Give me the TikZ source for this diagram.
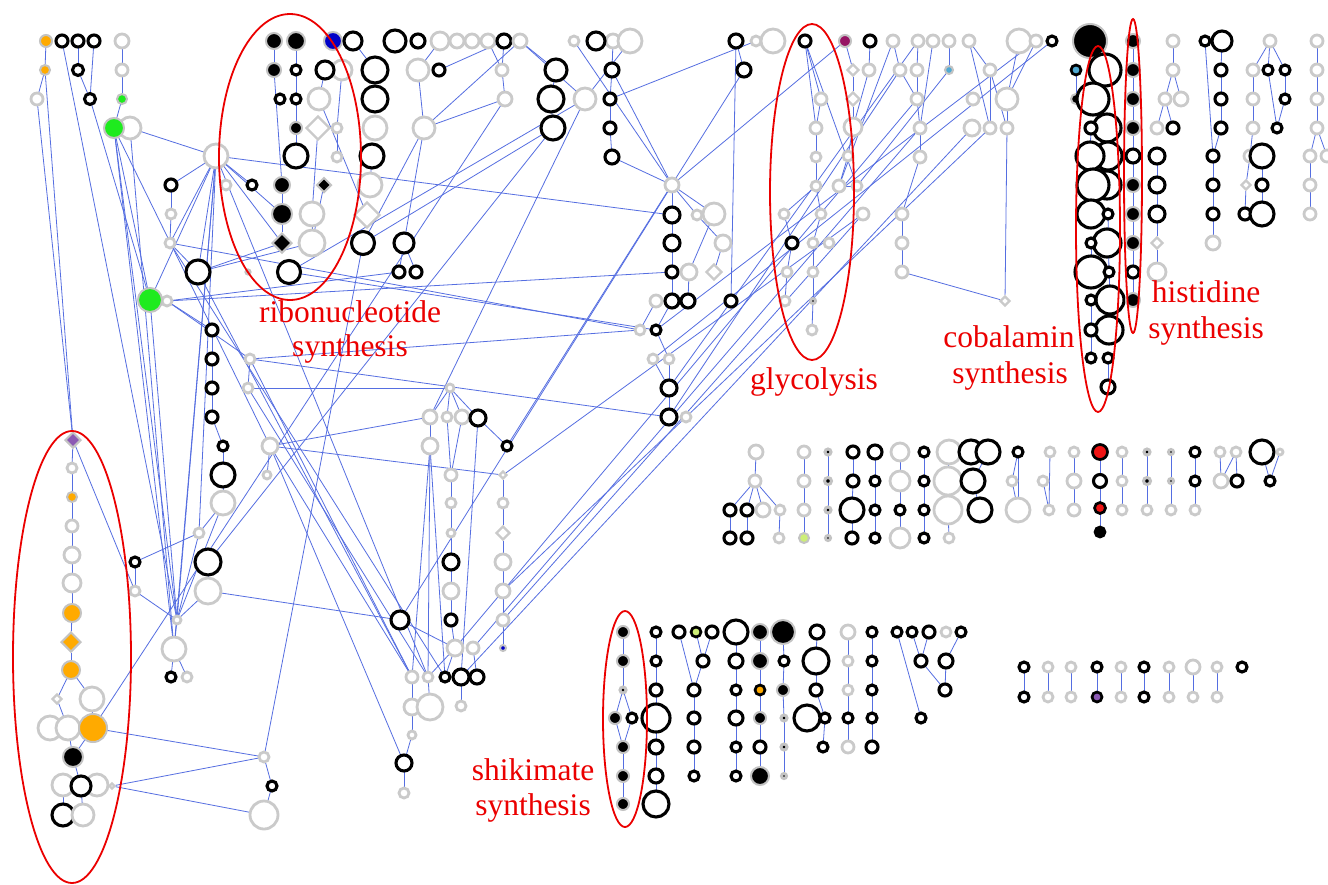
\documentclass[tikz,border=0pt]{standalone}
\usepackage{fontspec}
\usetikzlibrary{shapes.geometric}
\newfontfamily\lbfont{Liberation Serif}
\pgfdeclarelayer{bg}
\pgfsetlayers{bg,main}
\definecolor{ringgray}{RGB}{202,202,202}
\definecolor{halo}{RGB}{195,195,195}
\definecolor{edgeblue}{RGB}{85,110,225}
\definecolor{labred}{RGB}{235,0,0}
\definecolor{orng}{RGB}{255,170,0}
\definecolor{grn}{RGB}{30,235,30}
\definecolor{nblue}{RGB}{0,0,200}
\definecolor{purp}{RGB}{140,90,180}
\definecolor{mag}{RGB}{150,20,100}
\definecolor{tealc}{RGB}{80,170,210}
\definecolor{lgreen}{RGB}{205,238,120}
\definecolor{redn}{RGB}{240,20,20}
\tikzset{
 basic/.style={circle,inner sep=0pt,outer sep=0pt},
 nb/.style={basic,draw=black,line width=3.1pt,fill=white},
 ng/.style={basic,draw=ringgray,line width=2.8pt,fill=white},
 nf/.style={basic,draw=halo,line width=2pt,fill=black},
 nt/.style={basic,draw=halo,line width=3pt,fill=black},
 ncg/.style={basic,draw=halo,line width=2pt,fill=#1},
 ncb/.style={basic,draw=black,line width=2.7pt,fill=#1},
 ndg/.style={diamond,inner sep=0pt,draw=ringgray,line width=2.4pt,fill=white},
 ndb/.style={diamond,inner sep=0pt,draw=halo,line width=2pt,fill=black},
 ndc/.style={diamond,inner sep=0pt,draw=halo,line width=2pt,fill=#1},
 edge/.style={draw=edgeblue,line width=0.8pt},
 lbl/.style={text=labred,font={\lbfont\fontsize{31.5}{36}\selectfont},anchor=base,inner sep=0pt},
 ell/.style={draw=labred,line width=1.8pt},
}
\newcommand\nd[5]{\node[#2,minimum size={#5pt-2pt}] (#1) at (#3,#4) {};}
\begin{document}
\begin{tikzpicture}[x=1pt,y=-1pt]
\useasboundingbox (0,0) rectangle (1328,884);
% ---- top left
\nd{a1}{ncg=orng}{46}{41}{14}
\nd{a2}{nb}{62}{41}{14}
\nd{a3}{nb}{78}{41}{14}
\nd{a4}{nb}{94}{41}{14}
\nd{a5}{ng}{122}{41}{16}
\nd{a6}{ncg=orng}{45}{70}{12}
\nd{a7}{nb}{78}{70}{13}
\nd{a8}{ng}{122}{70}{14}
\nd{a9}{ng}{37}{99}{14}
\nd{a10}{nb}{90}{99}{13}
\nd{a11}{ncg=grn}{122}{99}{12}
\nd{a13}{ng}{130}{128}{24}
\nd{a12}{ncg=grn}{114}{128}{22}
\nd{hub1}{ng}{216}{156}{26}
\nd{a14}{nb}{171}{185}{14}
\nd{a15}{ng}{226}{185}{12}
\nd{a16}{nb}{252}{185}{12}
\nd{a17}{nf}{282}{185}{18}
\nd{a18}{ndb}{324}{185}{17}
\nd{a19}{ng}{370}{185}{26}
\nd{a20}{ng}{171}{214}{12}
\nd{a22}{ng}{312}{214}{26}
\nd{a21}{nf}{282}{214}{22}
\nd{a23}{ndg}{367}{215}{28}
\nd{a24}{ng}{170}{243}{12}
\nd{a26}{ng}{312}{243}{28}
\nd{a25}{ndb}{282}{243}{22}
\nd{a27}{nb}{363}{243}{25}
\nd{a28}{nb}{404}{243}{22}
\nd{a29}{nb}{198}{272}{26}
\nd{a30}{nt}{248}{272}{6}
\nd{a31}{nb}{289}{272}{25}
\nd{a32}{nb}{399}{272}{14}
\nd{a33}{nb}{416}{272}{14}
\nd{a35}{ng}{167}{301}{12}
\nd{a34}{ncg=grn}{150}{300}{26}
% ---- ribonucleotide area
\nd{r1}{nf}{274}{41}{18}
\nd{r2}{nf}{296}{41}{20}
\nd{r3}{ncg=nblue}{333}{41}{20}
\nd{r4}{nb}{353}{41}{20}
\nd{r5}{nb}{395}{41}{24}
\nd{r6}{nb}{418}{41}{16}
\nd{r7}{ng}{440}{41}{20}
\nd{r8}{nf}{274}{70}{16}
\nd{r9}{nb}{296}{70}{12}
\nd{r11}{ng}{342}{70}{22}
\nd{r10}{nb}{325}{70}{20}
\nd{r12}{nb}{375}{70}{28}
\nd{r13}{ng}{418}{70}{24}
\nd{r14}{nb}{439}{70}{14}
\nd{r15}{nb}{280}{99}{12}
\nd{r16}{nb}{296}{99}{12}
\nd{r17}{ng}{319}{99}{24}
\nd{r18}{nb}{375}{99}{28}
\nd{r19}{nf}{296}{128}{14}
\nd{r20}{ndg}{318}{128}{26}
\nd{r21}{ng}{337}{128}{12}
\nd{r22}{ng}{375}{128}{26}
\nd{r23}{ng}{424}{128}{24}
\nd{r24}{nb}{296}{156}{26}
\nd{r25}{ng}{337}{157}{12}
\nd{r26}{nb}{372}{156}{26}
% ---- top middle
\nd{m1}{ng}{457}{41}{16}
\nd{m2}{ng}{472}{41}{16}
\nd{m3}{ng}{488}{41}{16}
\nd{m4}{nb}{504}{41}{16}
\nd{m5}{ng}{520}{41}{16}
\nd{m6}{ng}{574}{41}{12}
\nd{m8}{ng}{613}{41}{16}
\nd{m9}{ng}{630}{41}{26}
\nd{m7}{nb}{596}{41}{20}
\nd{m10}{ng}{502}{70}{14}
\nd{m11}{nb}{556}{70}{24}
\nd{m12}{nb}{612}{70}{16}
\nd{m13}{ng}{505}{99}{16}
\nd{m15}{ng}{585}{99}{24}
\nd{m14}{nb}{551}{99}{28}
\nd{m16}{nb}{610}{99}{14}
\nd{m17}{nb}{553}{128}{26}
\nd{m18}{nb}{610}{128}{14}
\nd{m19}{nb}{612}{157}{16}
\nd{hub2}{ng}{672}{185}{16}
\nd{m20}{nb}{672}{215}{18}
\nd{m21}{ng}{697}{215}{12}
\nd{m22}{ng}{714}{214}{24}
\nd{m23}{nb}{672}{243}{18}
\nd{m24}{ng}{723}{243}{18}
\nd{m25}{nb}{672}{272}{14}
\nd{m26}{ng}{689}{272}{18}
\nd{m27}{ndg}{714}{272}{18}
\nd{m28}{ng}{656}{301}{14}
\nd{m29}{nb}{672}{301}{16}
\nd{m30}{nb}{688}{301}{16}
\nd{m31}{nb}{731}{301}{14}
\nd{m32}{ng}{640}{330}{12}
\nd{m33}{nb}{656}{330}{12}
\nd{m34}{ng}{653}{359}{12}
\nd{m35}{ng}{669}{359}{12}
\nd{m36}{nb}{669}{388}{18}
\nd{m37}{nb}{669}{417}{18}
\nd{m38}{ng}{686}{417}{12}
% ---- glycolysis
\nd{y1}{nb}{736}{41}{16}
\nd{y2}{ng}{756}{41}{12}
\nd{y3}{ng}{773}{41}{26}
\nd{y4}{nb}{805}{41}{14}
\nd{y5}{ncg=mag}{845}{41}{14}
\nd{y6}{nb}{870}{41}{14}
\nd{y7}{nb}{744}{70}{16}
\nd{y8}{ndg}{853}{70}{14}
\nd{y9}{ng}{869}{70}{14}
\nd{y10}{ng}{821}{99}{14}
\nd{y11}{ndg}{853}{99}{16}
\nd{y12}{ng}{816}{128}{14}
\nd{y13}{ng}{853}{127}{20}
\nd{y14}{ng}{816}{157}{12}
\nd{y15}{ng}{848}{156}{12}
\nd{y16}{ng}{816}{186}{12}
\nd{y17}{ng}{839}{186}{14}
\nd{y18}{ng}{857}{186}{12}
\nd{y19}{ng}{784}{214}{12}
\nd{y20}{ng}{821}{214}{12}
\nd{y21}{ng}{863}{214}{14}
\nd{y22}{nb}{792}{243}{14}
\nd{y23}{ng}{813}{243}{12}
\nd{y24}{ng}{829}{243}{12}
\nd{y25}{ng}{787}{272}{12}
\nd{y26}{ng}{813}{272}{12}
\nd{y27}{ng}{785}{301}{12}
\nd{y28}{nt}{813}{301}{7}
\nd{y29}{ng}{812}{330}{12}
% ---- top right grey
\nd{z1}{ng}{893}{41}{14}
\nd{z2}{ng}{918}{41}{14}
\nd{z3}{ng}{933}{41}{14}
\nd{z4}{ng}{949}{41}{14}
\nd{z5}{ng}{969}{41}{14}
\nd{z6}{ng}{1019}{41}{26}
\nd{z7}{ng}{1036}{41}{14}
\nd{z8}{nb}{1052}{41}{12}
\nd{z9}{nf}{1090}{41}{36}
\nd{z10}{ng}{900}{70}{14}
\nd{z11}{ng}{917}{70}{14}
\nd{z12}{ncg=tealc}{949}{70}{10}
\nd{z13}{ng}{990}{70}{14}
\nd{z14}{ng}{917}{99}{14}
\nd{z15}{ng}{973}{99}{14}
\nd{z16}{ng}{1007}{99}{24}
\nd{z17}{ng}{920}{128}{14}
\nd{z18}{ng}{972}{128}{18}
\nd{z19}{ng}{990}{128}{14}
\nd{z20}{ng}{1007}{128}{14}
\nd{z21}{ng}{920}{157}{14}
\nd{z22}{ng}{902}{214}{14}
\nd{z23}{ng}{902}{243}{14}
\nd{z24}{ng}{902}{272}{14}
\nd{z25}{ndg}{1005}{301}{12}
% ---- cobalamin
\nd{c1}{ncb=tealc}{1076}{70}{12}
\nd{c3}{nf}{1076}{99}{12}
\nd{c2}{nb}{1105}{70}{34}
\nd{c4}{nb}{1093}{99}{34}
\nd{c6}{nb}{1107}{128}{30}
\nd{c5}{nb}{1091}{128}{14}
\nd{c8}{nb}{1108}{156}{30}
\nd{c7}{nb}{1090}{156}{30}
\nd{c10}{nb}{1107}{185}{30}
\nd{c9}{nb}{1093}{185}{34}
\nd{c11}{nb}{1091}{214}{30}
\nd{c12}{nb}{1108}{214}{12}
\nd{c14}{nb}{1107}{243}{30}
\nd{c13}{nb}{1091}{243}{12}
\nd{c15}{nb}{1091}{272}{34}
\nd{c16}{nb}{1109}{272}{12}
\nd{c18}{nb}{1110}{300}{30}
\nd{c17}{nb}{1091}{300}{12}
\nd{c20}{nb}{1109}{330}{30}
\nd{c19}{nb}{1091}{330}{14}
\nd{c21}{nb}{1091}{358}{12}
\nd{c22}{nb}{1108}{358}{12}
\nd{c23}{nb}{1108}{387}{16}
% ---- histidine
\nd{h1}{nf}{1133}{41}{16}
\nd{h2}{nf}{1133}{70}{16}
\nd{h3}{nf}{1133}{99}{16}
\nd{h4}{nf}{1133}{128}{16}
\nd{h5}{nb}{1133}{156}{16}
\nd{h6}{nf}{1133}{185}{16}
\nd{h7}{nf}{1133}{214}{16}
\nd{h8}{nf}{1133}{243}{16}
\nd{h9}{nb}{1133}{272}{14}
\nd{h10}{nf}{1133}{300}{16}
% ---- far right
\nd{q1}{ng}{1173}{41}{14}
\nd{q2}{ng}{1173}{70}{14}
\nd{q3}{ng}{1165}{99}{14}
\nd{q4}{ng}{1181}{99}{16}
\nd{q5}{ng}{1157}{128}{14}
\nd{q6}{nb}{1173}{128}{14}
\nd{q7}{nb}{1157}{156}{18}
\nd{q8}{nb}{1157}{185}{18}
\nd{q9}{nb}{1157}{214}{18}
\nd{q10}{ndg}{1157}{243}{14}
\nd{q11}{ng}{1157}{272}{20}
\nd{q12}{nb}{1205}{41}{12}
\nd{q13}{nb}{1222}{41}{22}
\nd{q14}{nb}{1221}{70}{14}
\nd{q15}{nb}{1221}{99}{14}
\nd{q16}{nb}{1221}{128}{14}
\nd{q17}{nb}{1213}{156}{14}
\nd{q18}{nb}{1213}{185}{14}
\nd{q19}{nb}{1213}{214}{14}
\nd{q20}{ng}{1213}{243}{16}
\nd{q21}{ng}{1270}{41}{14}
\nd{q22}{ng}{1253}{70}{14}
\nd{q23}{nb}{1268}{70}{12}
\nd{q24}{nb}{1285}{70}{12}
\nd{q25}{ng}{1253}{99}{14}
\nd{q26}{nb}{1285}{99}{12}
\nd{q27}{ng}{1253}{128}{14}
\nd{q28}{nb}{1277}{128}{12}
\nd{q29}{ng}{1250}{156}{14}
\nd{q30}{nb}{1262}{156}{26}
\nd{q31}{ndg}{1246}{185}{12}
\nd{q32}{nb}{1262}{185}{14}
\nd{q33}{nb}{1245}{214}{14}
\nd{q34}{nb}{1262}{214}{26}
\nd{q35}{ng}{1317}{41}{14}
\nd{q36}{ng}{1317}{70}{14}
\nd{q37}{ng}{1317}{99}{14}
\nd{q38}{ng}{1317}{128}{14}
\nd{q39}{ng}{1310}{156}{14}
\nd{q40}{ng}{1327}{156}{14}
\nd{q41}{ng}{1310}{185}{14}
\nd{q42}{ng}{1310}{214}{14}
% ---- left middle
\nd{l1}{nb}{212}{330}{14}
\nd{l2}{nb}{212}{359}{14}
\nd{l3}{nb}{212}{388}{14}
\nd{l4}{nb}{212}{417}{14}
\nd{l5}{nb}{223}{446}{12}
\nd{l6}{nb}{223}{475}{26}
\nd{l7}{ng}{223}{503}{26}
\nd{l8}{ng}{199}{533}{12}
\nd{l9}{nb}{208}{562}{28}
\nd{l10}{ng}{208}{591}{28}
\nd{l11}{nb}{135}{562}{12}
\nd{l12}{ng}{135}{591}{12}
\nd{l13}{ng}{250}{359}{12}
\nd{l14}{ng}{248}{388}{12}
\nd{l15}{ng}{270}{446}{18}
\nd{l16}{ng}{267}{475}{10}
\nd{l17}{ng}{177}{620}{10}
\nd{l18}{ng}{174}{649}{26}
\nd{l19}{nb}{171}{677}{12}
\nd{l20}{ng}{187}{677}{12}
% ---- left ellipse column
\nd{p1}{ndc=purp}{73}{440}{18}
\nd{p2}{ng}{72}{468}{12}
\nd{p3}{ncg=orng}{72}{497}{12}
\nd{p4}{ng}{72}{526}{14}
\nd{p5}{ng}{72}{555}{18}
\nd{p6}{ng}{72}{583}{20}
\nd{p7}{ncg=orng}{72}{613}{20}
\nd{p8}{ndc=orng}{71}{642}{22}
\nd{p9}{ncg=orng}{71}{670}{20}
\nd{p10}{ndg}{57}{699}{12}
\nd{p11}{ng}{92}{699}{26}
\nd{p12}{ng}{50}{728}{26}
\nd{p13}{ng}{68}{728}{26}
\nd{p14}{ncg=orng}{93}{728}{30}
\nd{p15}{nf}{73}{757}{22}
\nd{p16}{ng}{63}{785}{24}
\nd{p18}{ng}{97}{785}{24}
\nd{p17}{nb}{81}{786}{22}
\nd{p19}{ndg}{112}{786}{8}
\nd{p20}{nb}{63}{815}{24}
\nd{p21}{ng}{83}{815}{24}
% ---- bottom left
\nd{s1}{ng}{264}{757}{12}
\nd{s2}{nb}{272}{786}{12}
\nd{s3}{ng}{264}{815}{30}
% ---- middle cluster
\nd{k1}{ng}{450}{388}{10}
\nd{k2}{ng}{430}{417}{16}
\nd{k3}{ng}{447}{417}{12}
\nd{k4}{ng}{462}{417}{16}
\nd{k5}{nb}{478}{418}{18}
\nd{k6}{ng}{430}{446}{18}
\nd{k7}{nb}{507}{446}{12}
\nd{k8}{ng}{451}{475}{14}
\nd{k9}{ndg}{503}{475}{10}
\nd{k10}{ng}{451}{503}{12}
\nd{k11}{ng}{503}{503}{12}
\nd{k12}{ng}{451}{533}{10}
\nd{k13}{ndg}{503}{533}{16}
\nd{k14}{nb}{451}{562}{18}
\nd{k15}{ng}{503}{562}{18}
\nd{k16}{ng}{451}{591}{18}
\nd{k17}{ng}{503}{591}{16}
\nd{k18}{nb}{400}{620}{20}
\nd{k19}{nb}{451}{620}{14}
\nd{k20}{ng}{503}{620}{14}
\nd{k21}{ng}{455}{648}{18}
\nd{k22}{ng}{473}{648}{14}
\nd{k23}{ncg=nblue}{503}{648}{8}
\nd{k24}{ng}{412}{677}{14}
\nd{k25}{ng}{428}{677}{12}
\nd{k26}{nb}{445}{677}{12}
\nd{k27}{nb}{461}{677}{18}
\nd{k28}{nb}{477}{677}{16}
\nd{k29}{ng}{412}{707}{18}
\nd{k30}{ng}{430}{707}{28}
\nd{k31}{ng}{461}{706}{12}
\nd{k32}{ng}{412}{735}{10}
\nd{k33}{nb}{404}{763}{18}
\nd{k34}{ng}{404}{793}{12}
% ---- right block rows
\nd{e1}{ng}{756}{452}{16}
\nd{e2}{ng}{804}{452}{14}
\nd{e3}{nt}{828}{452}{8}
\nd{e4}{nb}{853}{452}{14}
\nd{e5}{nb}{875}{452}{16}
\nd{e6}{ng}{900}{452}{20}
\nd{e7}{nb}{924}{452}{12}
\nd{e8}{ng}{949}{452}{26}
\nd{e9}{nb}{971}{452}{26}
\nd{e10}{nb}{988}{452}{26}
\nd{e11}{nb}{1018}{452}{12}
\nd{e12}{ng}{1050}{452}{12}
\nd{e13}{ng}{1074}{452}{12}
\nd{e14}{ncb=redn}{1100}{452}{17}
\nd{e15}{ng}{1122}{452}{12}
\nd{e16}{nt}{1147}{452}{8}
\nd{e17}{nt}{1171}{452}{7}
\nd{e18}{nb}{1195}{452}{12}
\nd{e19}{ng}{1220}{452}{12}
\nd{e20}{ng}{1236}{452}{12}
\nd{e21}{nb}{1262}{452}{26}
\nd{e22}{ng}{1280}{452}{8}
\nd{f1}{ng}{755}{481}{14}
\nd{f2}{ng}{804}{481}{14}
\nd{f3}{nt}{828}{481}{9}
\nd{f4}{nb}{853}{481}{14}
\nd{f5}{nb}{875}{481}{12}
\nd{f6}{ng}{900}{481}{22}
\nd{f7}{nb}{924}{481}{12}
\nd{f8}{ng}{948}{481}{30}
\nd{f9}{nb}{973}{481}{26}
\nd{f10}{ng}{1012}{481}{12}
\nd{f11}{ng}{1043}{481}{12}
\nd{f12}{ng}{1074}{481}{16}
\nd{f13}{nb}{1100}{481}{15}
\nd{f14}{ng}{1122}{481}{12}
\nd{f15}{nt}{1147}{481}{9}
\nd{f16}{nt}{1171}{481}{7}
\nd{f17}{nb}{1195}{481}{12}
\nd{f18}{ng}{1221}{481}{16}
\nd{f19}{nb}{1237}{481}{14}
\nd{f20}{nb}{1270}{481}{12}
\nd{w1}{nb}{730}{510}{14}
\nd{w2}{nb}{747}{510}{14}
\nd{w3}{ng}{763}{510}{16}
\nd{w4}{ng}{780}{510}{12}
\nd{w5}{ng}{804}{510}{14}
\nd{w6}{nt}{828}{510}{8}
\nd{w7}{nb}{852}{510}{26}
\nd{w8}{nb}{875}{510}{12}
\nd{w9}{nb}{900}{510}{12}
\nd{w10}{nb}{924}{510}{12}
\nd{w11}{ng}{948}{510}{30}
\nd{w12}{nb}{980}{510}{26}
\nd{w13}{ng}{1018}{510}{26}
\nd{w14}{ng}{1049}{510}{12}
\nd{w15}{ng}{1074}{510}{14}
\nd{w16}{ncb=redn}{1100}{508}{13}
\nd{w17}{ng}{1122}{510}{12}
\nd{w18}{ng}{1147}{510}{12}
\nd{w19}{ng}{1171}{510}{12}
\nd{w20}{ng}{1195}{510}{12}
\nd{v1}{nb}{730}{538}{14}
\nd{v2}{nb}{747}{538}{14}
\nd{v3}{ng}{779}{538}{12}
\nd{v4}{ncg=lgreen}{804}{538}{12}
\nd{v5}{nt}{828}{538}{7}
\nd{v6}{nb}{852}{538}{14}
\nd{v7}{nb}{875}{538}{12}
\nd{v8}{ng}{900}{538}{22}
\nd{v9}{nb}{924}{538}{12}
\nd{v10}{ng}{949}{538}{12}
\nd{v11}{ncb=black}{1100}{532}{12}
% ---- shikimate block
\nd{x1}{nf}{623}{632}{14}
\nd{x2}{nb}{656}{632}{12}
\nd{x3}{nb}{679}{632}{14}
\nd{x4}{ncb=lgreen}{696}{632}{12}
\nd{x5}{nb}{712}{632}{14}
\nd{x6}{nb}{736}{632}{26}
\nd{x7}{nf}{760}{632}{18}
\nd{x8}{nf}{783}{632}{26}
\nd{x9}{nb}{817}{632}{16}
\nd{x10}{ng}{848}{632}{16}
\nd{x11}{nb}{872}{632}{12}
\nd{x12}{nb}{897}{632}{12}
\nd{x13}{nb}{912}{632}{12}
\nd{x14}{nb}{929}{632}{14}
\nd{x15}{ng}{946}{632}{12}
\nd{x16}{nb}{961}{632}{12}
\nd{u1}{nf}{623}{661}{14}
\nd{u2}{nb}{656}{661}{12}
\nd{u3}{nb}{703}{661}{14}
\nd{u4}{nb}{736}{661}{16}
\nd{u5}{nf}{760}{661}{18}
\nd{u6}{nb}{784}{661}{12}
\nd{u7}{nb}{816}{661}{28}
\nd{u8}{ng}{848}{661}{12}
\nd{u9}{nb}{872}{661}{12}
\nd{u10}{nb}{921}{661}{14}
\nd{u11}{nb}{946}{661}{16}
\nd{o1}{nt}{623}{690}{8}
\nd{o2}{nb}{656}{690}{14}
\nd{o3}{nb}{694}{690}{14}
\nd{o4}{nb}{736}{690}{12}
\nd{o5}{ncb=orng}{760}{690}{12}
\nd{o6}{nf}{783}{690}{14}
\nd{o7}{nb}{816}{690}{14}
\nd{o8}{ng}{848}{690}{12}
\nd{o9}{nb}{872}{690}{12}
\nd{o10}{nb}{945}{690}{14}
\nd{j1}{nf}{615}{718}{14}
\nd{j2}{nb}{632}{718}{12}
\nd{j3}{nb}{656}{718}{30}
\nd{j4}{nb}{694}{718}{14}
\nd{j5}{nb}{736}{718}{16}
\nd{j6}{nf}{760}{718}{14}
\nd{j7}{nt}{784}{718}{8}
\nd{j9}{nb}{825}{718}{12}
\nd{j8}{nb}{807}{718}{28}
\nd{j10}{nb}{848}{718}{12}
\nd{j11}{nb}{872}{718}{12}
\nd{j12}{nb}{921}{718}{12}
\nd{i1}{nf}{623}{747}{14}
\nd{i2}{nb}{656}{747}{16}
\nd{i3}{nb}{694}{747}{14}
\nd{i4}{nb}{736}{747}{12}
\nd{i5}{nb}{760}{747}{14}
\nd{i6}{nt}{784}{747}{8}
\nd{i7}{nb}{823}{747}{12}
\nd{i8}{ng}{848}{747}{14}
\nd{i9}{nb}{872}{747}{14}
\nd{n1}{nf}{623}{776}{14}
\nd{n2}{nb}{656}{776}{16}
\nd{n3}{nb}{694}{776}{12}
\nd{n4}{nb}{736}{776}{12}
\nd{n5}{nf}{760}{776}{20}
\nd{n6}{nt}{784}{776}{7}
\nd{d1}{nf}{623}{804}{14}
\nd{d2}{nb}{656}{804}{28}
% ---- bottom right pairs
\nd{bb1}{nb}{1024}{667}{12}
\nd{bb2}{ng}{1048}{667}{12}
\nd{bb3}{ng}{1071}{667}{12}
\nd{bb4}{nb}{1097}{667}{12}
\nd{bb5}{ng}{1121}{667}{12}
\nd{bb6}{nb}{1144}{667}{12}
\nd{bb7}{ng}{1169}{667}{12}
\nd{bb8}{ng}{1193}{667}{16}
\nd{bb9}{ng}{1217}{667}{12}
\nd{bb10}{nb}{1242}{667}{12}
\nd{cc1}{nb}{1024}{697}{12}
\nd{cc2}{ng}{1048}{697}{12}
\nd{cc3}{ng}{1071}{697}{12}
\nd{cc4}{ncb=purp}{1097}{697}{12}
\nd{cc5}{ng}{1121}{697}{12}
\nd{cc6}{nb}{1144}{697}{12}
\nd{cc7}{ng}{1169}{697}{12}
\nd{cc8}{ng}{1193}{697}{12}
\nd{cc9}{ng}{1217}{697}{12}
% ---- edges (background layer, white page first)
\begin{pgfonlayer}{bg}
\fill[white] (0,0) rectangle (1328,884);
\foreach \a/\b in {a1/a6,a6/a9,a3/a7,a7/a10,a4/a10,a5/a8,a8/a11,a11/a12,a13/hub1,a9/p1,a6/p1,a2/l17,a10/a34,a12/a34,a12/l17,a12/l18,a12/l15,a13/l18,
 hub1/a14,hub1/a29,hub1/a16,hub1/a21,hub1/a25,hub1/m20,hub1/l17,hub1/l18,hub1/l8,hub1/a24,hub1/k25,hub1/a34,
 a14/a20,a20/a24,a24/m32,a24/a29,a29/a26,a29/a25,a35/m25,a35/a32,a35/l1,a34/l17,a34/a35,a31/m33,
 r1/r8,r8/a17,r2/r9,r9/r16,r16/r19,r19/r24,r11/r21,r21/r25,r20/a22,r4/r12,r7/r13,r13/r23,r23/a28,r23/a27,r26/a19,a22/a26,a28/a32,a28/a33,r10/r17,r17/a23,a17/a21,a21/a25,a18/a26}
 \draw[edge] (\a) -- (\b);
\foreach \a/\b in {m3/m10,m4/m10,m10/m13,m5/m11,m5/m15,m11/m14,m14/m17,m6/hub2,m8/m12,m12/m16,m16/m18,m18/m19,m19/hub2,m12/hub2,m15/a31,m17/a27,m13/r23,m4/r14,m5/r23,m16/y2,m9/m15,m15/k2,
 hub2/m20,hub2/m21,hub2/m22,hub2/y5,hub2/k18,m20/m23,m23/m25,m25/m29,m22/m26,m24/m27,m21/m24,y1/m31,y1/y7,m28/m32,m29/m33,m33/m35,m34/m36,m36/m37,m35/m36,m37/l13,m32/l13,m26/m30,
 y4/y10,y10/y12,y12/y14,y14/y16,y16/y20,y20/y23,y23/y26,y26/y28,y28/y29,y4/y18,y5/y8,y8/y11,y6/y9,y9/y13,y11/y13,y13/y15,y15/y17,y17/y18,y19/y22,y22/y25,y25/y27,y16/y19,y4/y12,
 k21/z14,k22/z17,k27/z18,k17/z19,k20/y21,m37/z10,m36/z2,k7/y7,k9/y21,z12/y18,z8/m34,z7/m33,z1/y17,
 z2/z11,z11/z14,z14/z17,z17/z21,z3/z17,z4/z12,z5/z13,z5/z19,z13/z19,z13/z20,z6/z16,z7/z16,z16/z20,z20/z25,z21/z22,z22/z23,z23/z24,z24/z25,z1/z10,z10/z14}
 \draw[edge] (\a) -- (\b);
\foreach \a/\b in {c1/c3,c5/c7,c13/c15,c17/c19,c19/c21,c22/c23,c12/c16,c16/c20,
 h1/h2,h2/h3,h3/h4,h4/h5,h5/h6,h6/h7,h7/h8,h8/h9,h9/h10,
 q1/q2,q2/q3,q2/q4,q3/q5,q3/q6,q7/q8,q8/q9,q9/q10,q10/q11,q12/q17,q13/q14,q14/q15,q15/q16,q16/q17,q17/q18,q18/q19,q19/q20,
 q21/q22,q21/q23,q21/q24,q22/q25,q25/q27,q24/q26,q26/q28,q23/q28,q27/q29,q29/q31,q31/q33,q30/q32,q32/q34,q35/q36,q36/q37,q37/q38,q38/q39,q38/q40,q39/q41,q41/q42}
 \draw[edge] (\a) -- (\b);
\foreach \a/\b in {l1/l2,l2/l3,l3/l4,l4/l5,l5/l6,l6/l7,l7/l8,l8/l11,l9/l10,l11/l12,l12/l17,l13/l14,l15/l16,l17/l18,l18/l19,l18/l20,p14/m13,p1/l12,l8/l17,l13/k24,l14/k25,l14/k1,l15/k2,l15/k9,l15/k24,l15/k33,l13/a35,l10/k18,a29/k24,a24/k26,l7/l17,l10/l17,l9/m17,
 p1/p2,p2/p3,p3/p4,p4/p5,p5/p6,p6/p7,p7/p8,p8/p9,p9/p10,p9/p11,p10/p13,p11/p14,p13/p15,p14/p15,p15/p17,p16/p20,p17/p21,p14/s1,p19/s1,p19/s3,
 s1/s2,s2/s3,s1/a27,
 k1/k2,k1/k3,k1/k4,k1/k5,k2/k6,k6/k24,k6/k25,k6/k26,k3/k8,k8/k10,k10/k12,k12/k14,k14/k16,k16/k19,k19/k21,k9/k11,k11/k13,k13/k15,k15/k17,k17/k20,k20/k23,k5/k7,k5/k27,k21/k25,k21/k26,k22/k28,k24/k29,k29/k32,k32/k33,k33/k34,k25/k30,k27/k31,k18/k21,k4/k8}
 \draw[edge] (\a) -- (\b);
\foreach \a/\b in {e1/f1,f1/w1,f1/w2,f1/w3,f1/w4,w1/v1,w2/v2,w4/v3,e2/f2,f2/w5,w5/v4,e3/f3,f3/w6,w6/v5,e4/f4,f4/w7,w7/v6,e5/f5,f5/w8,w8/v7,e6/f6,f6/w9,w9/v8,e7/f7,f7/w10,w10/v9,e8/f8,f8/w11,w11/v10,e10/f9,f9/w12,e11/f10,f10/w13,e11/w13,e12/w14,f11/w14,e13/f12,f12/w15,e14/f13,f13/w16,w16/v11,e15/f14,f14/w17,e16/f15,f15/w18,e17/f16,f16/w19,e18/f17,f17/w20,e19/f18,e20/f18,e20/f19,e22/f20,e21/f20,
 x1/u1,u1/o1,o1/j1,o1/j2,j1/i1,j2/i1,i1/n1,n1/d1,x2/u2,u2/o2,o2/j3,j3/i2,i2/n2,n2/d2,x3/o3,x4/u3,x5/u3,u3/o3,o3/j4,j4/i3,i3/n3,x6/u4,u4/o4,o4/j5,j5/i4,i4/n4,x7/u5,u5/o5,o5/j6,j6/i5,i5/n5,x8/u6,u6/o6,o6/j7,j7/i6,i6/n6,x9/u7,u7/o7,o7/j9,j9/i7,x10/u8,u8/o8,o8/j10,j10/i8,x11/u9,u9/o9,o9/j11,j11/i9,x12/j12,x13/u10,x14/u10,u10/o10,x16/u11,u11/o10,
 bb1/cc1,bb2/cc2,bb3/cc3,bb4/cc4,bb5/cc5,bb6/cc6,bb7/cc7,bb8/cc8,bb9/cc9}
 \draw[edge] (\a) -- (\b);
\end{pgfonlayer}
% ---- red ellipses
\draw[ell] (290,157) ellipse [x radius=71pt, y radius=143pt];
\draw[ell] (812,192) ellipse [x radius=42pt, y radius=168pt];
\draw[ell] (1098,229) ellipse [x radius=22pt, y radius=183pt];
\draw[ell] (1133,176) ellipse [x radius=9pt, y radius=157pt];
\draw[ell] (72,657) ellipse [x radius=59pt, y radius=226pt];
\draw[ell] (625,719) ellipse [x radius=22pt, y radius=108pt];
% ---- labels
\node[lbl] (t1) at (350,322) {ribonucleotide};
\node[lbl] (t2) at (350,356) {synthesis};
\node[lbl] (t3) at (814,389) {glycolysis};
\node[lbl] (t4) at (1009,347) {cobalamin};
\node[lbl] (t5) at (1010,383) {synthesis};
\node[lbl] (t6) at (1206,302) {histidine};
\node[lbl] (t7) at (1206,338) {synthesis};
\node[lbl] (t8) at (533,780) {shikimate};
\node[lbl] (t9) at (533,815) {synthesis};
\end{tikzpicture}
\end{document}
